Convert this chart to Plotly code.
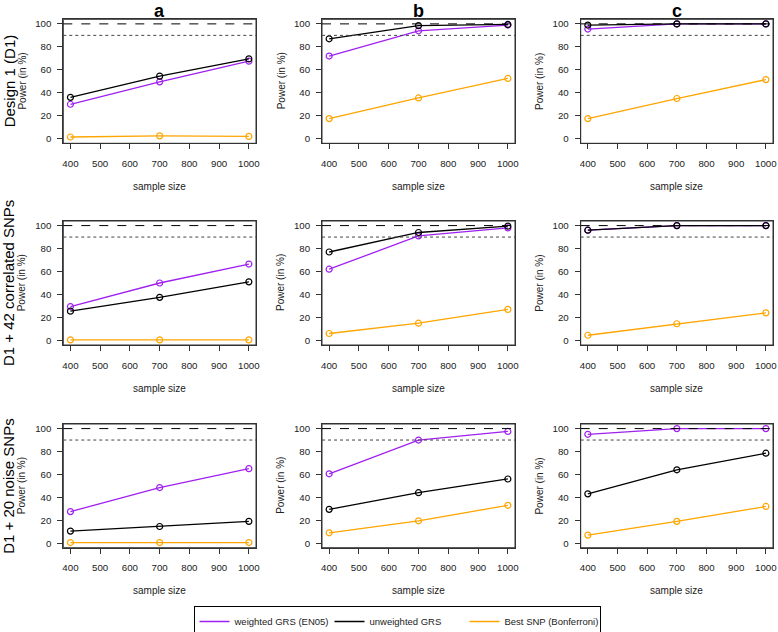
import plotly.graph_objects as go

W, H = 778, 632

sample_sizes = [400, 700, 1000]
tick_x = [400, 500, 600, 700, 800, 900, 1000]
tick_y = [0, 20, 40, 60, 80, 100]
col_titles = ["a", "b", "c"]
row_titles = ["Design 1 (D1)", "D1 + 42 correlated SNPs", "D1 + 20 noise SNPs"]
series_names = ["weighted GRS (EN05)", "unweighted GRS", "Best SNP (Bonferroni)"]
series_colors = ["#A020F0", "#000000", "#FFA500"]

# power values (in %), per row: [col a, col b, col c]
weighted_d1 = [[30, 49.5, 67.5], [72, 94, 99], [95.5, 100, 100]]
unweighted_d1 = [[36, 54.5, 69.5], [87, 98.5, 99.5], [99, 100, 100]]
bestsnp_d1 = [[1.5, 2.5, 2], [17.5, 35.5, 52.5], [17.5, 35, 51.5]]

weighted_corr = [[29.5, 50, 66.5], [62, 91, 98], [96, 100, 100]]
unweighted_corr = [[25.5, 37.5, 51], [77, 94, 99.5], [96, 100, 100]]
bestsnp_corr = [[0.5, 0.5, 0.5], [6, 15, 27], [4.5, 14.5, 24]]

weighted_noise = [[27.5, 48.5, 65], [60.5, 90, 97.5], [95, 100, 100]]
unweighted_noise = [[10.5, 14.5, 19], [29.5, 44, 56], [43, 64, 78.5]]
bestsnp_noise = [[0.5, 0.5, 0.5], [9, 19.5, 33], [7, 19, 32]]

rows_data = [
    [weighted_d1, unweighted_d1, bestsnp_d1],
    [weighted_corr, unweighted_corr, bestsnp_corr],
    [weighted_noise, unweighted_noise, bestsnp_noise],
]

# panel boxes in pixels
col_px = [(63.3, 256.0), (322.0, 515.0), (580.7, 773.0)]
row_px = [(19.3, 143.3), (221.0, 345.0), (424.0, 547.7)]


def px2x(p):
    return p / W


def px2y(p):
    return 1 - p / H


fig = go.Figure()
layout = {}
shapes = []
annotations = []
axis_color = "#333333"
font_family = "Liberation Sans, Arial, sans-serif"

k = 0
for r in range(3):
    for c in range(3):
        k += 1
        xa = "xaxis" if k == 1 else f"xaxis{k}"
        ya = "yaxis" if k == 1 else f"yaxis{k}"
        xr = "x" if k == 1 else f"x{k}"
        yr = "y" if k == 1 else f"y{k}"
        layout[xa] = dict(
            domain=[px2x(col_px[c][0]), px2x(col_px[c][1])],
            anchor=yr, range=[376, 1024], tickvals=tick_x, automargin=False,
            showline=True, mirror=True, linecolor=axis_color, linewidth=1,
            ticks="outside", ticklen=5, tickcolor=axis_color, tickwidth=1,
            showgrid=False, zeroline=False, ticklabelstandoff=6,
            tickfont=dict(size=9.7, color="#222222", family=font_family),
        )
        layout[ya] = dict(
            domain=[px2y(row_px[r][1]), px2y(row_px[r][0])],
            anchor=xr, range=[-4, 104], tickvals=tick_y, automargin=False,
            showline=True, mirror=True, linecolor=axis_color, linewidth=1,
            ticks="outside", ticklen=5, tickcolor=axis_color, tickwidth=1,
            showgrid=False, zeroline=False, ticklabelstandoff=4,
            tickfont=dict(size=9.7, color="#222222", family=font_family),
        )
        # panel frame
        shapes.append(dict(type="rect", xref=f"{xr} domain", yref=f"{yr} domain",
                           x0=0, x1=1, y0=0, y1=1,
                           line=dict(color=axis_color, width=1), layer="above"))
        # reference lines
        shapes.append(dict(type="line", xref=f"{xr} domain", yref=yr, x0=0, x1=1,
                           y0=100, y1=100, line=dict(color="#000000", width=1, dash="dash"),
                           layer="above"))
        shapes.append(dict(type="line", xref=f"{xr} domain", yref=yr, x0=0, x1=1,
                           y0=90, y1=90, line=dict(color="#444444", width=1, dash="dot"),
                           layer="above"))
        for s in range(3):
            fig.add_trace(go.Scatter(
                x=sample_sizes, y=rows_data[r][s][c], mode="lines+markers",
                line=dict(color=series_colors[s], width=1.3),
                marker=dict(symbol="circle-open", size=6, color=series_colors[s],
                            line=dict(width=1.2, color=series_colors[s])),
                xaxis=xr, yaxis=yr, showlegend=False, name=series_names[s],
            ))
        # axis titles
        annotations.append(dict(
            text="sample size", xref="paper", yref="paper",
            x=px2x((col_px[c][0] + col_px[c][1]) / 2), y=px2y(row_px[r][1] + 43),
            showarrow=False, font=dict(size=10, color="#222222", family=font_family),
            xanchor="center", yanchor="middle"))
        annotations.append(dict(
            text="Power (in %)", xref="paper", yref="paper", textangle=-90,
            x=px2x(col_px[c][0] - 41), y=px2y((row_px[r][0] + row_px[r][1]) / 2),
            showarrow=False, font=dict(size=10, color="#222222", family=font_family),
            xanchor="center", yanchor="middle"))

# column titles
for c in range(3):
    annotations.append(dict(
        text=f"<b>{col_titles[c]}</b>", xref="paper", yref="paper",
        x=px2x((col_px[c][0] + col_px[c][1]) / 2), y=1.0,
        showarrow=False, font=dict(size=18, color="#000000", family=font_family),
        xanchor="center", yanchor="top", borderpad=0))

# row titles
for r in range(3):
    annotations.append(dict(
        text=row_titles[r], xref="paper", yref="paper", textangle=-90,
        x=px2x(9), y=px2y((row_px[r][0] + row_px[r][1]) / 2),
        showarrow=False, font=dict(size=15, color="#000000", family=font_family),
        xanchor="center", yanchor="middle"))

# legend entries
for s in range(3):
    fig.add_trace(go.Scatter(
        x=[None], y=[None], mode="lines", name=series_names[s],
        line=dict(color=series_colors[s], width=1.5), xaxis="x", yaxis="y",
        showlegend=True))

fig.update_layout(
    width=W, height=H, margin=dict(l=0, r=0, t=0, b=0, autoexpand=False),
    paper_bgcolor="white", plot_bgcolor="white",
    font=dict(family=font_family),
    shapes=shapes, annotations=annotations,
    legend=dict(orientation="h", x=px2x(397), y=px2y(606), xanchor="center", yanchor="top",
                bordercolor="#000000", borderwidth=1,
                font=dict(size=9.5, color="#222222", family=font_family),
                entrywidth=90, entrywidthmode="pixels", itemwidth=30,
                tracegroupgap=0),
    **layout,
)

fig.write_html(
    "out.html",
    config={"displayModeBar": False},
    post_script="document.body.style.margin='0';document.body.style.overflow='hidden';",
)
